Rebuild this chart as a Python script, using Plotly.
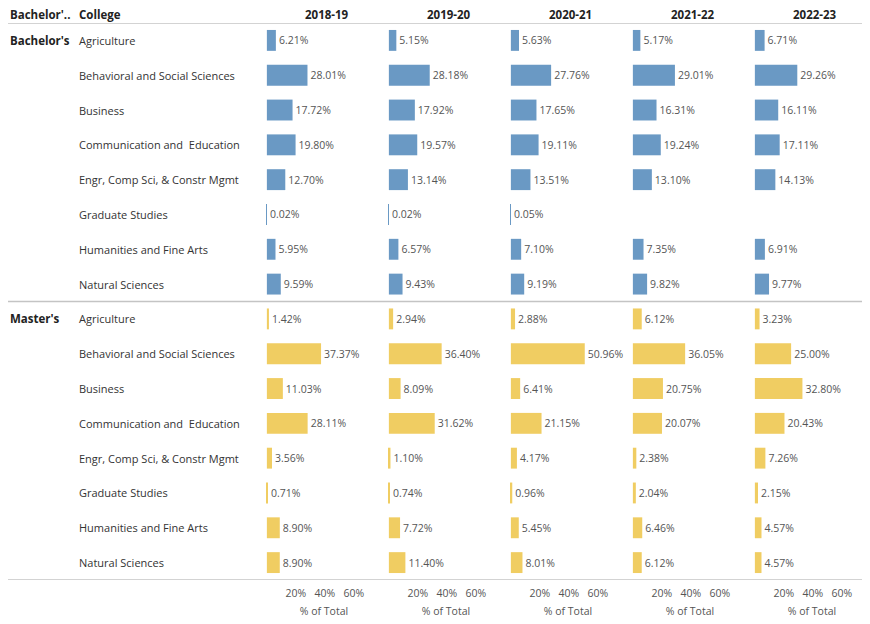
import plotly.graph_objects as go

years = ["2018-19", "2019-20", "2020-21", "2021-22", "2022-23"]
degrees = ["Bachelor's", "Master's"]
colleges = [
    "Agriculture",
    "Behavioral and Social Sciences",
    "Business",
    "Communication and\u00a0 Education",
    "Engr, Comp Sci, & Constr Mgmt",
    "Graduate Studies",
    "Humanities and Fine Arts",
    "Natural Sciences",
]

# % of total, one list per year (order of colleges)
bachelors_pct = [
    [6.21, 28.01, 17.72, 19.80, 12.70, 0.02, 5.95, 9.59],
    [5.15, 28.18, 17.92, 19.57, 13.14, 0.02, 6.57, 9.43],
    [5.63, 27.76, 17.65, 19.11, 13.51, 0.05, 7.10, 9.19],
    [5.17, 29.01, 16.31, 19.24, 13.10, None, 7.35, 9.82],
    [6.71, 29.26, 16.11, 17.11, 14.13, None, 6.91, 9.77],
]
masters_pct = [
    [1.42, 37.37, 11.03, 28.11, 3.56, 0.71, 8.90, 8.90],
    [2.94, 36.40, 8.09, 31.62, 1.10, 0.74, 7.72, 11.40],
    [2.88, 50.96, 6.41, 21.15, 4.17, 0.96, 5.45, 8.01],
    [6.12, 36.05, 20.75, 20.07, 2.38, 2.04, 6.46, 6.12],
    [3.23, 25.00, 32.80, 20.43, 7.26, 2.15, 4.57, 4.57],
]
tick_vals = [20, 40, 60]

degree_colors = {"Bachelor's": "#6a99c4", "Master's": "#f0cd62"}

FONT = "Open Sans"
# the page body has an 8px margin; the figure is sized/positioned to compensate
OFF = 8
W, H = 870 - OFF, 624 - OFF
ML, MR, MT, MB = 266 - OFF, 0, 23 - OFF, 44
plot_w = W - ML - MR
plot_h = H - MT - MB
step_px = 122.0      # distance between panes
pane_px = 116.0      # drawn pane width
px_per_pct = 1.45
x_lo = -0.6
x_hi = x_lo + pane_px / px_per_pct
header_y = 1 + (23 - 15) / plot_h   # header text centre, in paper units

row_keys = []
row_colors = []
for d in degrees:
    for c in colleges:
        row_keys.append(d + "|" + c)
        row_colors.append(degree_colors[d])

fig = go.Figure()
layout_axes = {}
for k, yr in enumerate(years):
    ax = "x" if k == 0 else f"x{k+1}"
    vals = bachelors_pct[k] + masters_pct[k]
    fig.add_trace(go.Bar(
        x=vals, y=row_keys, orientation="h",
        xaxis=ax, yaxis="y",
        marker=dict(color=row_colors, line=dict(width=0)),
        width=0.6,
        texttemplate="%{x:.2f}%", textposition="outside",
        textfont=dict(family=FONT, size=10.5, color="#555555"),
        constraintext="none", cliponaxis=False,
        showlegend=False, hoverinfo="skip",
    ))
    d0 = (k * step_px) / plot_w
    d1 = min(1.0, (k * step_px + pane_px) / plot_w)
    key = "xaxis" if k == 0 else f"xaxis{k+1}"
    layout_axes[key] = dict(
        domain=[d0, d1], range=[x_lo, x_hi], anchor="y",
        showgrid=False, zeroline=False, showline=False,
        tickvals=tick_vals, ticktext=[f"{v}%" for v in tick_vals],
        ticks="", ticklabelstandoff=5,
        tickfont=dict(family=FONT, size=10.5, color="#555555"),
        title=dict(text="% of Total", font=dict(family=FONT, size=10.5, color="#555555"), standoff=9),
    )
    # column header
    fig.add_annotation(
        text=f"<b>{yr}</b>", xref=f"{ax} domain", yref="paper",
        x=60.5 / pane_px, y=header_y, yanchor="middle", xanchor="center",
        borderpad=0, showarrow=False, font=dict(family=FONT, size=11.5, color="#222222"),
    )

# row labels
for i, key in enumerate(row_keys):
    deg, col = key.split("|")
    fig.add_annotation(
        text=col, xref="paper", yref="y", x=(77 - 266) / plot_w, y=key,
        xanchor="left", yanchor="middle", showarrow=False,
        font=dict(family=FONT, size=11, color="#333333"),
    )
    if col == colleges[0]:
        fig.add_annotation(
            text=f"<b>{deg}</b>", xref="paper", yref="y", x=(8 - 266) / plot_w, y=key,
            xanchor="left", yanchor="middle", showarrow=False,
            font=dict(family=FONT, size=11.5, color="#222222"),
        )

# header labels
for txt, xp in [("Bachelor'..", 9), ("College", 78)]:
    fig.add_annotation(
        text=f"<b>{txt}</b>", xref="paper", yref="paper", x=(xp - 266) / plot_w, y=header_y,
        xanchor="left", yanchor="middle", borderpad=0, showarrow=False,
        font=dict(family=FONT, size=11.5, color="#222222"),
    )

# separator lines
line_style = dict(color="#c4c4c4", width=1.5)
x_left = (5 - 266) / plot_w
for yv in [-0.5, len(colleges) - 0.5, 2 * len(colleges) - 0.5]:
    fig.add_shape(type="line", xref="paper", yref="y", x0=x_left, x1=1,
                  y0=yv, y1=yv, line=line_style, layer="above")

fig.update_layout(
    width=W, height=H,
    margin=dict(l=ML, r=MR, t=MT, b=MB),
    paper_bgcolor="white", plot_bgcolor="white",
    yaxis=dict(type="category", categoryarray=row_keys,
               range=[2 * len(colleges) - 0.5, -0.5],
               showticklabels=False, showgrid=False, zeroline=False, ticks=""),
    font=dict(family=FONT),
    bargap=0.4,
    **layout_axes,
)

fig.write_html("out.html")
